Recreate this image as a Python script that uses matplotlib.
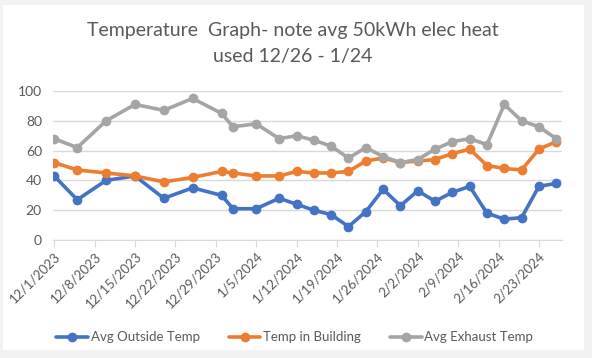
import datetime as dt
import matplotlib
matplotlib.use("Agg")
import matplotlib.pyplot as plt
import matplotlib.dates as mdates
from matplotlib.patches import Rectangle

plt.rcParams['font.family'] = ['Lato', 'DejaVu Sans']

days = [0, 4, 9, 14, 19, 24, 29, 31, 35, 39, 42, 45, 48, 51, 54, 57, 60, 63,
        66, 69, 72, 75, 78, 81, 84, 87]
outside = [43, 27, 40, 43, 28, 35, 30, 21, 21, 28, 24, 20, 17, 9, 19, 34, 23, 33,
           26, 32, 36, 18, 14, 15, 36, 38]
building = [52, 47, 45, 43, 39, 42, 46, 45, 43, 43, 46, 45, 45, 46, 53, 55, 52, 53,
            54, 58, 61, 50, 48, 47, 61, 66]
exhaust = [68, 62, 80, 91, 87, 95, 85, 76, 78, 68, 70, 67, 63, 55, 62, 56, 52, 54,
           61, 66, 68, 64, 91, 80, 76, 68]

start = dt.date(2023, 12, 1)
dates = [start + dt.timedelta(days=d) for d in days]
tick_dates = [start + dt.timedelta(days=7 * k) for k in range(13)]

fig = plt.figure(figsize=(5.92, 3.58), dpi=100)
# screenshot frame
fig.patches.append(Rectangle((0, 0), 1, 1, transform=fig.transFigure,
                             facecolor='#f2f2f2', edgecolor='none', zorder=-2))
fig.patches.append(Rectangle((3 / 592, 8 / 358), 581 / 592, 345 / 358,
                             transform=fig.transFigure, facecolor='white',
                             edgecolor='none', zorder=-1))

ax = fig.add_axes([53 / 592, 118 / 358, 509 / 592, 149 / 358])
ax.set_facecolor('none')

series = [
    (outside, '#4472C4', 'Avg Outside Temp'),
    (building, '#ED7D31', 'Temp in Building'),
    (exhaust, '#A5A5A5', 'Avg Exhaust Temp'),
]
for vals, col, lab in series:
    ax.plot(dates, vals, color=col, lw=2.6, marker='o', ms=6, label=lab,
            solid_capstyle='round', zorder=3)

ax.set_ylim(0, 100)
ax.set_yticks(range(0, 101, 20))
ax.set_xlim(mdates.date2num(start) - 0.2, mdates.date2num(start) + 88)
ax.set_xticks(tick_dates)
ax.set_xticklabels([f"{d.month}/{d.day}/{d.year}" for d in tick_dates],
                   rotation=45, ha='right', rotation_mode='anchor')
ax.grid(axis='y', color='#d9d9d9', lw=1)
ax.set_axisbelow(True)
for s in ['top', 'right', 'left']:
    ax.spines[s].set_visible(False)
ax.spines['bottom'].set_color('#d9d9d9')
ax.tick_params(axis='y', length=0, labelsize=10, labelcolor='#595959', pad=8)
ax.tick_params(axis='x', length=5, color='#d9d9d9', labelsize=9.5,
               labelcolor='#595959', pad=2)

fig.text(0.495, 0.915, "Temperature  Graph- note avg 50kWh elec heat",
         ha='center', va='center', fontsize=14, color='#595959')
fig.text(0.495, 0.843, "used 12/26 - 1/24",
         ha='center', va='center', fontsize=14, color='#595959')

fig.legend(loc='center', bbox_to_anchor=(0.498, 0.058), ncol=3, frameon=False,
           fontsize=9.5, labelcolor='#595959', handlelength=2.4,
           columnspacing=2.2, handletextpad=0.2)

fig.savefig('out.png', dpi=100)
